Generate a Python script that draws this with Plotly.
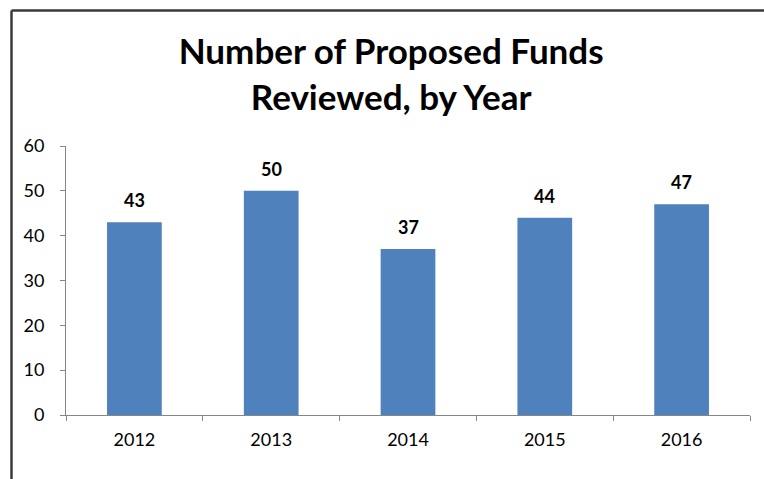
import plotly.graph_objects as go

years = ["2012", "2013", "2014", "2015", "2016"]
counts = [43, 50, 37, 44, 47]
y_ticks = [0, 10, 20, 30, 40, 50, 60]

FONT = "Lato, Open Sans, sans-serif"

fig = go.Figure()
fig.add_trace(go.Bar(
    x=years, y=counts, width=0.4,
    marker=dict(color="#4F81BD", line=dict(width=0)),
    hoverinfo="x+y",
))

for i, v in enumerate(counts):
    fig.add_annotation(x=i, y=v, xref="x", yref="y", text="<b>%d</b>" % v, showarrow=False,
                       yanchor="middle", yshift=22,
                       font=dict(family=FONT, size=18, color="black"))

fig.update_layout(
    width=764, height=479,
    margin=dict(l=66, r=14, t=146, b=64),
    paper_bgcolor="white", plot_bgcolor="white",
    showlegend=False,
    title=dict(text="<b>Number of Proposed Funds<br>Reviewed, by Year</b>",
               x=0.512, xanchor="center", y=0.866, yanchor="middle",
               font=dict(family=FONT, size=35, color="black")),
    xaxis=dict(type="category", range=[-0.5, 4.5], showline=True, linecolor="#868686",
               linewidth=1, ticks="outside", tickson="boundaries", ticklen=5,
               tickcolor="#868686", showgrid=False, zeroline=False, ticklabelstandoff=8,
               tickfont=dict(family=FONT, size=18, color="black")),
    yaxis=dict(range=[0, 60], tickvals=y_ticks, showline=True, linecolor="#868686",
               linewidth=1, ticks="outside", ticklen=5, tickcolor="#868686",
               showgrid=False, zeroline=False, ticklabelstandoff=12,
               tickfont=dict(family=FONT, size=18, color="black")),
    shapes=[
        dict(type="line", xref="paper", yref="paper", x0=(11.5-66)/684, x1=(770-66)/684,
             y0=(415-10.5)/269, y1=(415-10.5)/269, line=dict(color="#3a3a3a", width=2.5)),
        dict(type="line", xref="paper", yref="paper", x0=(11.5-66)/684, x1=(11.5-66)/684,
             y0=(415-10.5)/269, y1=(415-490)/269, line=dict(color="#3a3a3a", width=2.5)),
    ],
)

fig.write_html("out.html")
